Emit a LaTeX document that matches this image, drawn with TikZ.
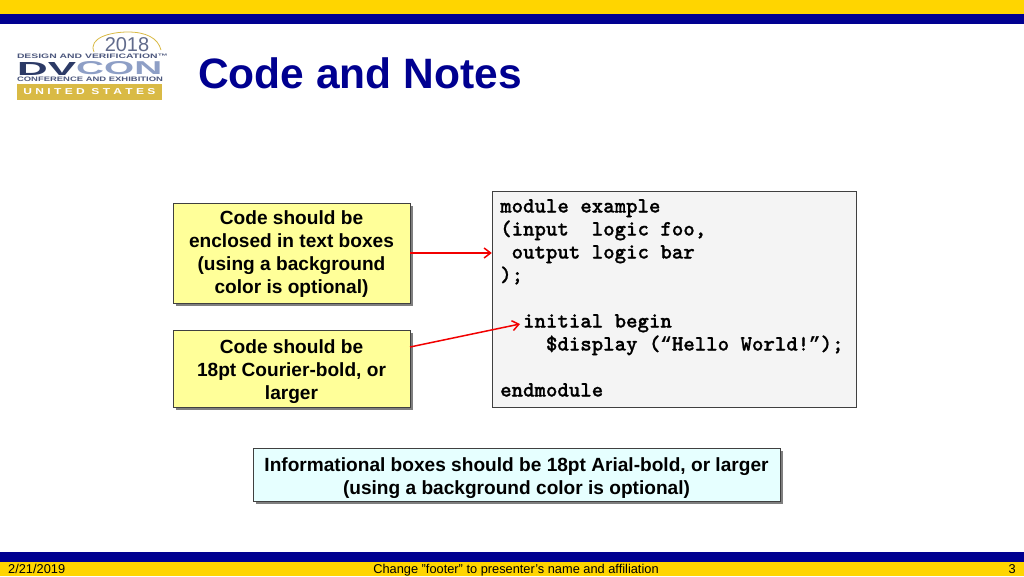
\documentclass[tikz,border=0pt]{standalone}
\usepackage{fontspec}
\setmainfont{Liberation Sans}
\newfontfamily\codefont[Extension=.otf, FakeBold=0.9]{lmmonolt10-bold}
\newfontfamily\quotefont{Liberation Mono}
\newcommand{\codequote}[1]{{\quotefont\bfseries\fontsize{19.1}{23}\selectfont #1}}
\usetikzlibrary{shadows,arrows.meta}
\definecolor{barYellow}{HTML}{FFD500}
\definecolor{barNavy}{HTML}{000090}
\definecolor{noteYellow}{HTML}{FFFF99}
\definecolor{infoCyan}{HTML}{E6FFFF}
\definecolor{codeGray}{HTML}{F4F4F4}
\definecolor{logoGold}{HTML}{D9BA45}
\definecolor{logoDark}{HTML}{2C3A66}
\definecolor{logoBlue}{HTML}{8E9FC6}
\tikzset{
	notebox/.style={draw=black!75, fill=noteYellow, minimum width=237pt, inner sep=0pt, align=center, font=\fontsize{19.1}{23}\selectfont\bfseries, drop shadow={shadow xshift=2.5pt, shadow yshift=-2.5pt, fill=black, opacity=0.5}},
	setaRed/.style={->, >={Straight Barb[length=6.5pt, width=10pt]}, red!95!black, line width=1.5pt}
}
\begin{document}
\begin{tikzpicture}[x=1pt, y=-1pt]
	\useasboundingbox (0,0) rectangle (1024,576);
	\fill[white] (0,0) rectangle (1024,576);

	% Barras
	\fill[barYellow] (0,0) rectangle (1024,14);
	\fill[barNavy] (0,14) rectangle (1024,24);
	\fill[barNavy] (0,552) rectangle (1024,562);
	\fill[barYellow] (0,562) rectangle (1024,576);

	% Logo
	\draw[logoGold, line width=0.8pt] (94,52) .. controls (88,38) and (110,32) .. (128,32) .. controls (146,32) and (158,38) .. (161,50);
	\node[inner sep=0pt, text=logoDark!75] (year) at (127,44.5) {\fontsize{20}{20}\selectfont 2018};
	\node[inner sep=0pt, text=logoDark!85] (design) at (92.5,56) {\resizebox{151pt}{4.5pt}{\bfseries DESIGN AND VERIFICATION™}};
	\node[inner sep=0pt, anchor=west, text=logoDark] (dv) at (17,68.5) {\resizebox{59pt}{13pt}{\bfseries DV}};
	\node[inner sep=0pt, anchor=west, text=logoBlue] (con) at (76,68.5) {\resizebox{86pt}{13pt}{\bfseries CON}};
	\node[inner sep=0pt, text=logoDark!85] (conference) at (90,79.5) {\resizebox{146pt}{4.5pt}{\bfseries CONFERENCE AND EXHIBITION}};
	\node[fill=logoGold, minimum width=145pt, minimum height=16pt, inner sep=0pt, text=white] (states) at (89.5,92) {\resizebox{132pt}{6pt}{\bfseries U N I T E D~~S T A T E S}};

	% Titulo
	\node[inner sep=0pt, anchor=base west, text=barNavy] (title) at (198,88) {\fontsize{42.5}{50}\selectfont\bfseries Code and Notes};

	% Caixas
	\node[notebox, minimum height=100pt] (note1) at (291.5,253) {\rule{0pt}{16pt}Code should be\\enclosed in text boxes\\(using a background\\color is optional)};
	\node[notebox, minimum height=77pt] (note2) at (291.5,368.5) {\rule{0pt}{21pt}Code should be\\18pt Courier-bold, or\\larger};
	\node[notebox, fill=infoCyan, minimum width=527pt, minimum height=53pt] (info) at (516.5,474.5) {\rule{0pt}{21pt}Informational boxes should be 18pt Arial-bold, or larger\\(using a background color is optional)};

	% Codigo
	\node[draw=black!75, fill=codeGray, minimum width=364pt, minimum height=216pt, inner sep=0pt] (code) at (674,299) {};
	\node[inner sep=0pt, anchor=north west, align=left, font=\fontsize{21.8}{23}\selectfont\codefont] (codetext) at (500,199) {module example\\(input~~logic foo,\\~output logic bar\\);\\~\\~~initial begin\\~~~~\$display (\codequote{“}Hello World!\codequote{”});\\~\\endmodule};

	% Setas
	\coordinate (tip1) at (code.west |- note1);
	\coordinate (tail2) at (410,347);
	\coordinate (tip2) at (520,324);
	\draw[setaRed] (note1.east) -- (tip1);
	\draw[setaRed] (tail2) -- (tip2);

	% Rodape
	\node[inner sep=0pt, anchor=base west, font=\fontsize{12.8}{13}\selectfont] (date) at (8,573) {2/21/2019};
	\node[inner sep=0pt, anchor=base, font=\fontsize{12.8}{13}\selectfont] (footer) at (516,573) {Change "footer" to presenter's name and affiliation};
	\node[inner sep=0pt, anchor=base east, font=\fontsize{12.8}{13}\selectfont] (page) at (1016,573) {3};
\end{tikzpicture}
\end{document}
